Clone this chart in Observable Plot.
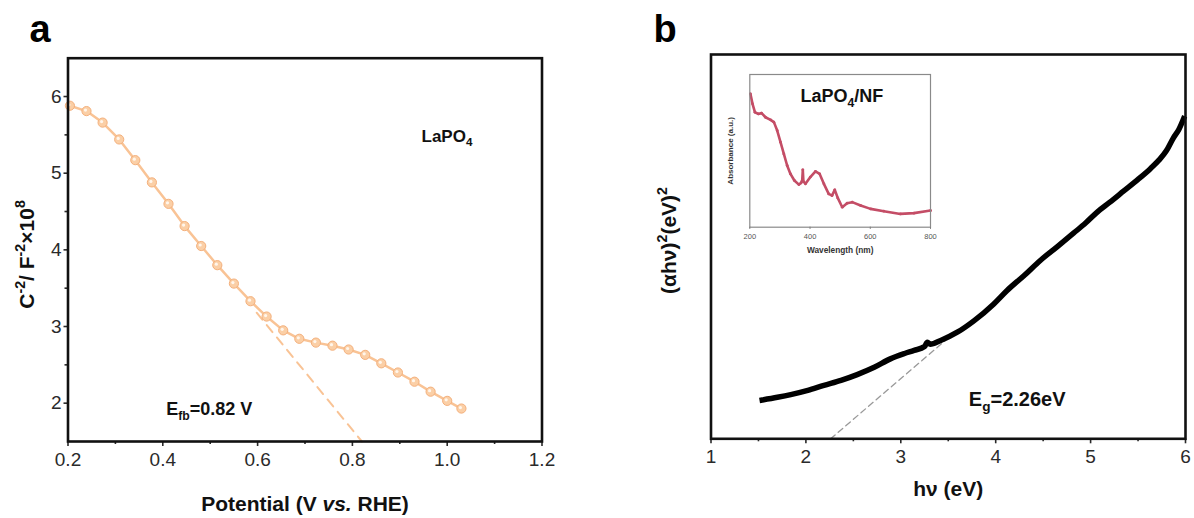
<!DOCTYPE html>
<html><head><meta charset="utf-8">
<script src="https://cdn.jsdelivr.net/npm/d3@7"></script>
<script src="https://cdn.jsdelivr.net/npm/@observablehq/plot@0.6"></script>
<style>
body{margin:0;background:#fff;}
#wrap{position:relative;width:1194px;height:518px;overflow:hidden;background:#fff;}
.panel{position:absolute;}
</style></head><body><div id="wrap"></div>
<script>
// ---------- Panel a: Mott–Schottky ----------
const potential = [0.204, 0.239, 0.273, 0.308, 0.342, 0.377, 0.412, 0.446, 0.481, 0.515, 0.550, 0.585, 0.619,
                   0.654, 0.688, 0.723, 0.758, 0.792, 0.827, 0.861, 0.896, 0.931, 0.965, 1.000, 1.030];
const capInv2 = [5.88, 5.81, 5.66, 5.44, 5.17, 4.88, 4.60, 4.31, 4.05, 3.80, 3.56, 3.33, 3.13,
                 2.95, 2.84, 2.79, 2.75, 2.70, 2.63, 2.52, 2.40, 2.28, 2.15, 2.03, 1.93];
const fitX = [0.598, 0.82];
const fitY = [3.18, 1.5];
const xTicksA = [0.2, 0.4, 0.6, 0.8, 1.0, 1.2];
const xMinorA = [0.3, 0.5, 0.7, 0.9, 1.1];
const yTicksA = [2, 3, 4, 5, 6];
const yMinorA = [2.5, 3.5, 4.5, 5.5];

// ---------- Panel b: Tauc plot ----------
const photonEnergy = [1.54, 1.70, 1.84, 2.02, 2.19, 2.37, 2.54, 2.72, 2.89, 3.04, 3.14, 3.25, 3.28, 3.31, 3.42,
                      3.60, 3.77, 3.98, 4.12, 4.30, 4.47, 4.65, 4.82, 4.95, 5.07, 5.20, 5.35, 5.50, 5.63, 5.72,
                      5.80, 5.87, 5.93, 5.98];
const tauc = [0.101, 0.108, 0.115, 0.126, 0.139, 0.152, 0.167, 0.186, 0.208, 0.222, 0.230, 0.240, 0.251, 0.246, 0.256,
              0.278, 0.307, 0.351, 0.386, 0.425, 0.464, 0.500, 0.535, 0.562, 0.590, 0.615, 0.645, 0.675, 0.703, 0.725,
              0.750, 0.782, 0.805, 0.833];
const tangentX = [2.26, 3.47];
const tangentY = [0.0, 0.256];
const xTicksB = [1, 2, 3, 4, 5, 6];
const xMinorB = [1.5, 2.5, 3.5, 4.5, 5.5];

// ---------- Inset: UV-vis absorbance ----------
const wavelength = [202, 209, 217, 228, 239, 252, 269, 280, 291, 302, 313, 324, 335, 348, 363, 370, 374, 376, 378,
                    385, 401, 418, 432, 446, 462, 473, 482, 492, 507, 523, 540, 568, 601, 645, 700, 745, 800];
const absorbance = [0.873, 0.808, 0.753, 0.742, 0.747, 0.720, 0.703, 0.688, 0.633, 0.557, 0.480, 0.404, 0.349, 0.306,
                    0.279, 0.290, 0.306, 0.376, 0.300, 0.284, 0.328, 0.365, 0.349, 0.284, 0.218, 0.207, 0.245, 0.192,
                    0.131, 0.157, 0.164, 0.142, 0.120, 0.105, 0.087, 0.092, 0.109];
const xTicksInset = [200, 400, 600, 800];

const FONT = 'Arial, "Liberation Sans", "Helvetica", sans-serif';
const orange = "#f9c395";
const orangeDark = "#f4b07c";

function richText(svg, key, parts, fs) {
  svg.querySelectorAll("text").forEach(t => {
    if (t.textContent !== key) return;
    while (t.firstChild) t.removeChild(t.firstChild);
    let shift = 0;
    for (const [str, kind] of parts) {
      const ts = document.createElementNS("http://www.w3.org/2000/svg", "tspan");
      ts.textContent = str;
      let target = 0;
      if (kind === "sub") { target = fs * 0.28; ts.setAttribute("font-size", (fs * 0.68).toFixed(1)); }
      else if (kind === "sup") { target = -fs * 0.4; ts.setAttribute("font-size", (fs * 0.68).toFixed(1)); }
      else if (kind === "italic") ts.setAttribute("font-style", "italic");
      const d = target - shift;
      if (d) ts.setAttribute("dy", d.toFixed(2));
      shift = target;
      t.appendChild(ts);
    }
  });
}

function place(el, left, top) {
  const d = document.createElement("div");
  d.className = "panel";
  d.style.left = left + "px";
  d.style.top = top + "px";
  d.appendChild(el);
  document.getElementById("wrap").appendChild(d);
  return el;
}

const idx = (arr) => arr.map((_, i) => i);

// ----- Panel a -----
const A = Plot.plot({
  width: 600, height: 518,
  marginLeft: 67.5, marginRight: 58.5, marginTop: 57.7, marginBottom: 77,
  style: {fontFamily: FONT, background: "transparent", overflow: "visible"},
  x: {domain: [0.2, 1.2]},
  y: {domain: [1.5, 6.5]},
  marks: [
    Plot.line(idx(fitX), {x: i => fitX[i], y: i => fitY[i], stroke: orange, strokeWidth: 2, strokeDasharray: "9,7"}),
    Plot.line(idx(potential), {x: i => potential[i], y: i => capInv2[i], stroke: orange, strokeWidth: 2.5}),
    Plot.dot(idx(potential), {x: i => potential[i], y: i => capInv2[i], r: 4.6, fill: "#fbcfa6", stroke: orangeDark, strokeWidth: 1}),
    Plot.dot(idx(potential), {x: i => potential[i], y: i => capInv2[i], r: 1.6, fill: "#fff6ec", dx: -1, dy: -1}),
    Plot.axisX({ticks: xTicksA, tickSize: 5, tickPadding: 6, tickFormat: d3.format(".1f"), fontSize: 19, strokeWidth: 1.6, color: "#2a2a2a", label: null}),
    Plot.axisX({ticks: xMinorA, tickSize: 3, tickFormat: () => "", strokeWidth: 1.6, color: "#2a2a2a", label: null}),
    Plot.axisY({ticks: yTicksA, tickSize: 4, tickPadding: 2.5, tickFormat: d3.format("d"), fontSize: 19, strokeWidth: 1.6, color: "#2a2a2a", label: null}),
    Plot.axisY({ticks: yMinorA, tickSize: 3, tickFormat: () => "", strokeWidth: 1.6, color: "#2a2a2a", label: null}),
    Plot.frame({stroke: "#111", strokeWidth: 2.6}),
    Plot.text(["a"], {text: d => d, frameAnchor: "top-left", textAnchor: "start", lineAnchor: "bottom", dx: -38.5, dy: -16, fontSize: 38, fontWeight: "bold", fill: "#000"}),
    Plot.text(["LaPO4"], {text: d => d, frameAnchor: "top-left", textAnchor: "start", lineAnchor: "bottom", dx: 353.5, dy: 83.3, fontSize: 17, fontWeight: "bold", fill: "#111"}),
    Plot.text(["Efb=0.82 V"], {text: d => d, frameAnchor: "top-left", textAnchor: "start", lineAnchor: "bottom", dx: 98.2, dy: 357, fontSize: 18, fontWeight: "bold", fill: "#111"}),
    Plot.text(["Potential (V vs. RHE)"], {text: d => d, frameAnchor: "bottom", textAnchor: "middle", lineAnchor: "bottom", dy: 69.8, fontSize: 21, fontWeight: "bold", fill: "#111"}),
    Plot.text(["C-2/ F-2×108"], {text: d => d, frameAnchor: "left", textAnchor: "middle", lineAnchor: "bottom", rotate: -90, dx: -34.2, dy: 4.6, fontSize: 21, fontWeight: "bold", fill: "#111"})
  ]
});
place(A, 0, 0);
richText(A, "LaPO4", [["LaPO"], ["4", "sub"]], 17);
richText(A, "Efb=0.82 V", [["E"], ["fb", "sub"], ["=0.82 V"]], 18);
richText(A, "Potential (V vs. RHE)", [["Potential (V "], ["vs.", "italic"], [" RHE)"]], 21);
richText(A, "C-2/ F-2×108", [["C"], ["-2", "sup"], ["/ F"], ["-2", "sup"], ["×10"], ["8", "sup"]], 21);

// ----- Panel b -----
const B = Plot.plot({
  width: 594, height: 518,
  marginLeft: 110.5, marginRight: 9, marginTop: 54, marginBottom: 79.7,
  style: {fontFamily: FONT, background: "transparent", overflow: "visible"},
  x: {domain: [1, 6]},
  y: {domain: [0, 1], axis: null},
  marks: [
    Plot.line(idx(tangentX), {x: i => tangentX[i], y: i => tangentY[i], stroke: "#999", strokeWidth: 1.3, strokeDasharray: "6,4"}),
    Plot.line(idx(photonEnergy), {x: i => photonEnergy[i], y: i => tauc[i], stroke: "#000", strokeWidth: 5.5, curve: "monotone-x", strokeLinecap: "square"}),
    Plot.axisX({ticks: xTicksB, tickSize: 5, tickPadding: 6, tickFormat: d3.format("d"), fontSize: 19, strokeWidth: 1.6, color: "#2a2a2a", label: null}),
    Plot.axisX({ticks: xMinorB, tickSize: 3, tickFormat: () => "", strokeWidth: 1.6, color: "#2a2a2a", label: null}),
    Plot.frame({stroke: "#111", strokeWidth: 2.6}),
    Plot.text(["b"], {text: d => d, frameAnchor: "top-left", textAnchor: "start", lineAnchor: "bottom", dx: -57.5, dy: -12.3, fontSize: 38, fontWeight: "bold", fill: "#000"}),
    Plot.text(["Eg=2.26eV"], {text: d => d, frameAnchor: "top-left", textAnchor: "start", lineAnchor: "bottom", dx: 257.8, dy: 351.3, fontSize: 20, fontWeight: "bold", fill: "#111"}),
    Plot.text(["hν (eV)"], {text: d => d, frameAnchor: "bottom", textAnchor: "middle", lineAnchor: "bottom", dy: 57.5, fontSize: 21, fontWeight: "bold", fill: "#111"}),
    Plot.text(["(αhν)2(eV)2"], {text: d => d, frameAnchor: "left", textAnchor: "middle", lineAnchor: "bottom", rotate: -90, dx: -35.5, dy: -6.2, fontSize: 21, fontWeight: "bold", fill: "#111"})
  ]
});
place(B, 600, 0);
richText(B, "Eg=2.26eV", [["E"], ["g", "sub"], ["=2.26eV"]], 20);
richText(B, "(αhν)2(eV)2", [["(αhν)"], ["2", "sup"], ["(eV)"], ["2", "sup"]], 21);

// ----- Inset -----
const C = Plot.plot({
  width: 250, height: 200,
  marginLeft: 49.3, marginRight: 20, marginTop: 14, marginBottom: 33.3,
  style: {fontFamily: FONT, background: "transparent", overflow: "visible"},
  x: {domain: [200, 800]},
  y: {domain: [0, 1], axis: null},
  marks: [
    Plot.line(idx(wavelength), {x: i => wavelength[i], y: i => absorbance[i], stroke: "#c44d66", strokeWidth: 2.6}),
    Plot.dot(idx(wavelength), {x: i => wavelength[i], y: i => absorbance[i], r: 1.4, fill: "#c44d66"}),
    Plot.axisX({ticks: xTicksInset, tickSize: 2, tickPadding: 4, tickFormat: d3.format("d"), fontSize: 7.5, color: "#555", label: null}),
    Plot.frame({stroke: "#8a8a8a", strokeWidth: 1.2}),
    Plot.text(["LaPO4/NF"], {text: d => d, frameAnchor: "top-left", textAnchor: "start", lineAnchor: "bottom", dx: 50.7, dy: 27, fontSize: 18, fontWeight: "bold", fill: "#111"}),
    Plot.text(["Wavelength (nm)"], {text: d => d, frameAnchor: "bottom", textAnchor: "middle", lineAnchor: "bottom", dy: 25.6, fontSize: 8.3, fontWeight: "bold", fill: "#333"}),
    Plot.text(["Absorbance (a.u.)"], {text: d => d, frameAnchor: "left", textAnchor: "middle", lineAnchor: "bottom", rotate: -90, dx: -17, fontSize: 8, fontWeight: "bold", fill: "#333"})
  ]
});
place(C, 700, 60);
richText(C, "LaPO4/NF", [["LaPO"], ["4", "sub"], ["/NF"]], 18);
</script>
</body></html>
